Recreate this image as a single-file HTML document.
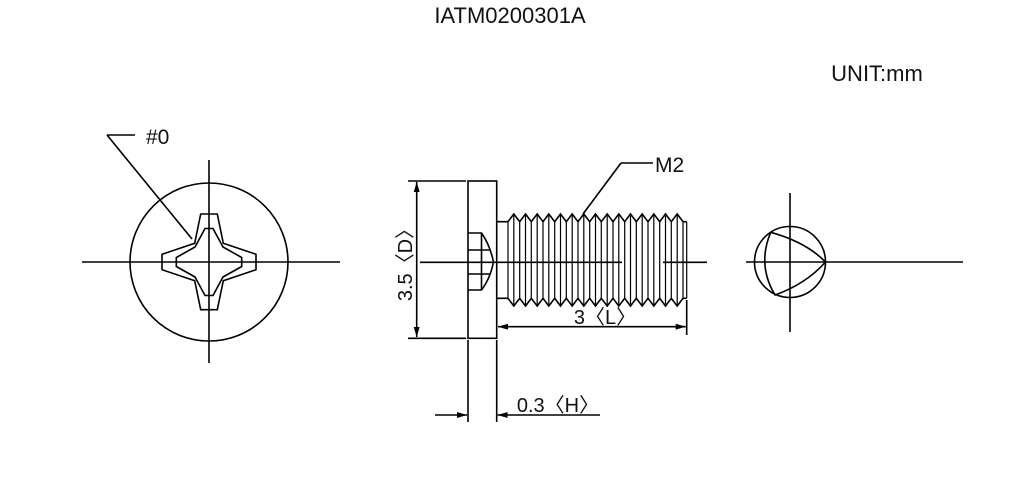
<!DOCTYPE html>
<html><head><meta charset="utf-8"><style>
html,body{margin:0;padding:0;background:#fff;}
svg{display:block;}
text{font-family:"Liberation Sans",sans-serif;fill:#111;}
</style></head><body>
<svg width="1024" height="497" viewBox="0 0 1024 497" xmlns="http://www.w3.org/2000/svg">
<defs>
<marker id="a" viewBox="0 0 10 6" refX="10" refY="3" markerWidth="10" markerHeight="6" orient="auto-start-reverse" markerUnits="userSpaceOnUse"><path d="M0,0 L10,3 L0,6 z" fill="#000"/></marker>
</defs>
<text x="510" y="23" font-size="22" text-anchor="middle">IATM0200301A</text>
<text x="877" y="81" font-size="22" text-anchor="middle">UNIT:mm</text>
<g stroke="#000" stroke-width="1.6" fill="none">
<circle cx="209" cy="262" r="79"/>
<line x1="82" y1="262" x2="340" y2="262"/>
<line x1="209" y1="160" x2="209" y2="363"/>
<path d="M200.7,214 L217.3,214 L223.3,243.3 L256,254.3 L256,269.7 L223.3,280.7 L217.3,309.7 L200.7,309.7 L194.7,280.7 L162,269.7 L162,254.3 L194.7,243.3 Z"/>
<path d="M205,228.5 L213,228.5 L223,247 L241.7,257.5 L241.7,266.5 L223,277 L213,295.5 L205,295.5 L195,277 L176.3,266.5 L176.3,257.5 L195,247 Z"/>
<line x1="107" y1="135" x2="135" y2="135"/>
<line x1="107" y1="135" x2="192" y2="239"/>
<rect x="468" y="181" width="28.7" height="157.3"/>
<line x1="408" y1="181" x2="466" y2="181"/>
<line x1="408" y1="338.3" x2="466" y2="338.3"/>
<line x1="416.7" y1="182" x2="416.7" y2="337" marker-start="url(#a)" marker-end="url(#a)"/>
<path d="M468,233 L481.5,233 Q490,245 493.5,262 Q490,279 481.5,290 L468,290"/>
<line x1="481.5" y1="233" x2="481.5" y2="290"/>
<line x1="468" y1="250" x2="490" y2="250"/>
<line x1="468" y1="274" x2="490" y2="274"/>
<line x1="420" y1="262.3" x2="622" y2="262.3"/>
<line x1="663" y1="262.3" x2="707" y2="262.3"/>
<path d="M496.7,221.7 L508,221.7 M496.7,298.3 L508,298.3"/>
<path d="M508,221.7 L513.8,214 L519.7,221.7 L525.5,214 L531.3,221.7 L537.2,214 L543,221.7 L548.8,214 L554.7,221.7 L560.5,214 L566.3,221.7 L572.2,214 L578,221.7 L583.8,214 L589.7,221.7 L595.5,214 L601.3,221.7 L607.2,214 L613,221.7 L618.8,214 L624.7,221.7 L630.5,214 L636.3,221.7 L642.2,214 L648,221.7 L653.8,214 L659.7,221.7 L665.5,214 L671.3,221.7 L677.2,214 L683,221.7 L686.7,221.7"/>
<path d="M508,298.3 L513.8,306 L519.7,298.3 L525.5,306 L531.3,298.3 L537.2,306 L543,298.3 L548.8,306 L554.7,298.3 L560.5,306 L566.3,298.3 L572.2,306 L578,298.3 L583.8,306 L589.7,298.3 L595.5,306 L601.3,298.3 L607.2,306 L613,298.3 L618.8,306 L624.7,298.3 L630.5,306 L636.3,298.3 L642.2,306 L648,298.3 L653.8,306 L659.7,298.3 L665.5,306 L671.3,298.3 L677.2,306 L683,298.3 L686.7,298.3"/>
<g stroke-width="1.2">
<path d="M508,221.7V298.3 M513.8,214V306 M519.7,221.7V298.3 M525.5,214V306 M531.3,221.7V298.3 M537.2,214V306 M543,221.7V298.3 M548.8,214V306 M554.7,221.7V298.3 M560.5,214V306 M566.3,221.7V298.3 M572.2,214V306 M578,221.7V298.3 M583.8,214V306 M589.7,221.7V298.3 M595.5,214V306 M601.3,221.7V298.3 M607.2,214V306 M613,221.7V298.3 M618.8,214V306 M624.7,221.7V298.3 M630.5,214V306 M636.3,221.7V298.3 M642.2,214V306 M648,221.7V298.3 M653.8,214V306 M659.7,221.7V298.3 M665.5,214V306 M671.3,221.7V298.3 M677.2,214V306 M683,221.7V298.3 M686.7,221.7V298.3"/>
</g>
<line x1="686.7" y1="300" x2="686.7" y2="335"/>
<line x1="498" y1="326.7" x2="685.7" y2="326.7" marker-start="url(#a)" marker-end="url(#a)"/>
<line x1="468" y1="340" x2="468" y2="422"/>
<line x1="496.7" y1="340" x2="496.7" y2="422"/>
<line x1="435" y1="415" x2="467" y2="415" marker-end="url(#a)"/>
<line x1="600" y1="415" x2="497.7" y2="415" marker-end="url(#a)"/>
<line x1="583" y1="214" x2="621" y2="163"/>
<line x1="621" y1="163" x2="653" y2="163"/>
<circle cx="790" cy="262" r="35.5"/>
<line x1="746" y1="262" x2="963" y2="262"/>
<line x1="790" y1="193" x2="790" y2="332"/>
<path d="M770.7,232.3 Q806,242 825.5,262 Q806,284 775,295 Q757,265 770.7,232.3 Z"/>
</g>
<text x="146" y="144" font-size="21">#0</text>
<text x="655" y="172" font-size="21">M2</text>
<text x="605" y="324" font-size="20" text-anchor="middle">3〈L〉</text>
<text x="558" y="412" font-size="20" text-anchor="middle">0.3〈H〉</text>
<text transform="translate(412,260) rotate(-90)" font-size="20" text-anchor="middle">3.5〈D〉</text>
</svg>
</body></html>
